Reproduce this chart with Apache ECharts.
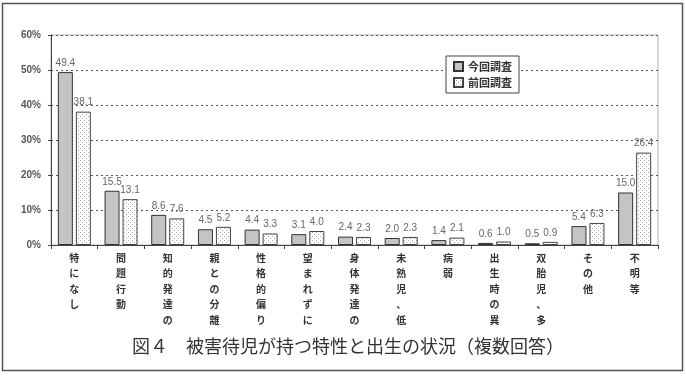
<!DOCTYPE html>
<html>
<head>
<meta charset="utf-8">
<script src="https://cdn.jsdelivr.net/npm/echarts@6/dist/echarts.min.js"></script>
<style>
  html, body { margin: 0; padding: 0; background: #fff; }
  #chart { width: 686px; height: 376px; }
</style>
</head>
<body>
<div id="chart"></div>
<script>
// 項目（図中で見えている表記）
const categories = ['特になし', '問題行動', '知的発達の', '親との分離', '性格的偏り', '望まれずに', '身体発達の',
  '未熟児、低', '病弱', '出生時の異', '双胎児、多', 'その他', '不明等']
// 今回調査
const currentValues = [49.4, 15.5, 8.6, 4.5, 4.4, 3.1, 2.4, 2.0, 1.4, 0.6, 0.5, 5.4, 15.0]
// 前回調査
const previousValues = [38.1, 13.1, 7.6, 5.2, 3.3, 4.0, 2.3, 2.3, 2.1, 1.0, 0.9, 6.3, 26.4]
const seriesNames = ['今回調査', '前回調査']
const title = '図４　被害待児が持つ特性と出生の状況（複数回答）'

// 前回調査の点模様
const dotCanvas = document.createElement('canvas')
dotCanvas.width = 4
dotCanvas.height = 4
const ctx = dotCanvas.getContext('2d')
ctx.fillStyle = '#fff'
ctx.fillRect(0, 0, 4, 4)
ctx.fillStyle = '#a8a8a8'
ctx.fillRect(0, 0, 1, 1)
ctx.fillRect(2, 2, 1, 1)

const chart = echarts.init(document.getElementById('chart'))

const barLabel = {
  show: true,
  position: 'top',
  distance: 4,
  fontSize: 10,
  color: '#666',
  fontFamily: 'Liberation Sans',
  formatter: (p) => p.value.toFixed(1)
}

const option = {
  animation: false,
  backgroundColor: '#fff',
  grid: {
    left: 51,
    top: 35,
    right: 28,
    bottom: 131,
    show: true,
    borderColor: '#b0b0b0',
    borderWidth: 1
  },
  legend: {
    orient: 'vertical',
    left: 446,
    top: 56,
    padding: [5, 7],
    itemGap: 5,
    itemWidth: 9,
    itemHeight: 9,
    borderColor: '#444',
    borderWidth: 1,
    backgroundColor: '#fff',
    icon: 'rect',
    textStyle: {
      fontSize: 11,
      fontWeight: 'bold',
      color: '#333',
      fontFamily: 'Noto Sans CJK JP'
    },
    data: seriesNames
  },
  xAxis: {
    type: 'category',
    data: categories,
    axisLine: { lineStyle: { color: '#444' } },
    axisTick: { show: true, length: 4, lineStyle: { color: '#444' } },
    axisLabel: {
      interval: 0,
      margin: 5,
      fontSize: 10,
      fontWeight: 'bold',
      color: '#333',
      lineHeight: 15.5,
      fontFamily: 'Noto Sans CJK JP',
      verticalAlign: 'top',
      formatter: (v) => v.split('').join('\n')
    }
  },
  yAxis: {
    type: 'value',
    min: 0,
    max: 60,
    interval: 10,
    axisLine: { show: true, lineStyle: { color: '#444' } },
    axisTick: { show: true, length: 3, lineStyle: { color: '#444' } },
    axisLabel: {
      margin: 10,
      fontSize: 10,
      fontWeight: 'bold',
      color: '#555',
      fontFamily: 'Liberation Sans',
      formatter: '{value}%'
    },
    splitLine: {
      show: true,
      lineStyle: { color: '#555', type: [2, 3], width: 1 }
    }
  },
  series: [
    {
      name: seriesNames[0],
      type: 'bar',
      data: currentValues,
      barWidth: 15,
      barGap: '20%',
      itemStyle: { color: '#c4c4c4', borderColor: '#333', borderWidth: 1 },
      label: barLabel
    },
    {
      name: seriesNames[1],
      type: 'bar',
      data: previousValues,
      barWidth: 15,
      itemStyle: { color: { image: dotCanvas, repeat: 'repeat' }, borderColor: '#444', borderWidth: 1 },
      label: barLabel
    }
  ],
  graphic: [
    {
      type: 'rect',
      shape: { x: 2.5, y: 3.5, width: 680, height: 367 },
      style: { fill: 'none', stroke: '#555', lineWidth: 1.5 },
      silent: true
    },
    {
      type: 'text',
      x: 132,
      y: 346,
      style: {
        text: title,
        fontSize: 18,
        fill: '#333',
        fontFamily: 'Noto Sans CJK JP',
        verticalAlign: 'middle'
      }
    }
  ]
}

chart.setOption(option)
</script>
</body>
</html>
